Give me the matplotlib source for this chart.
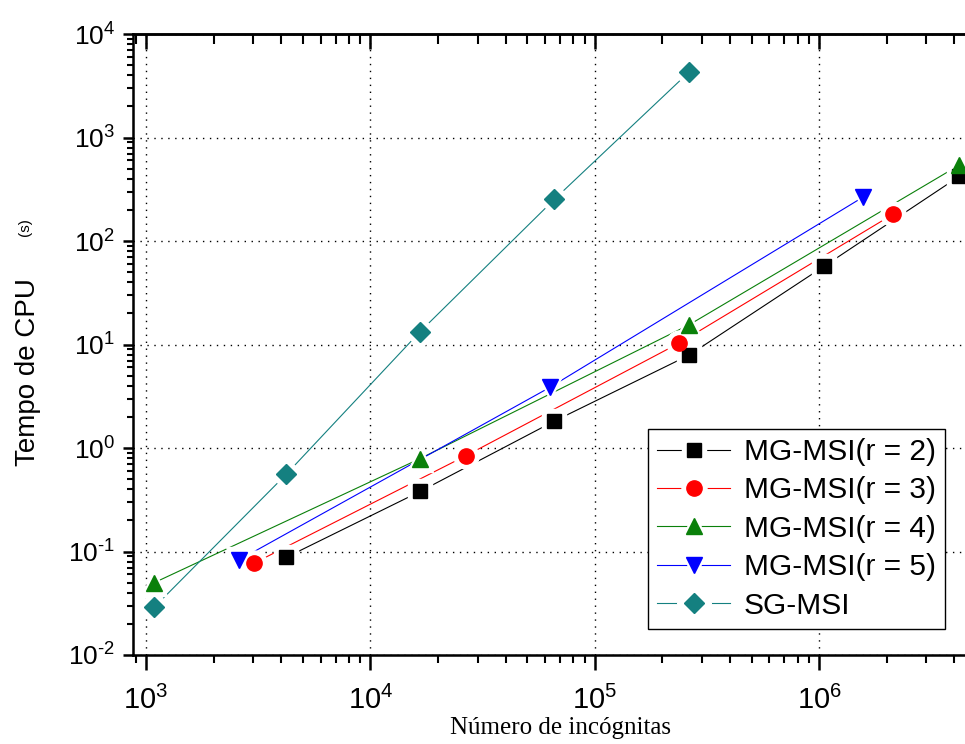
import matplotlib
matplotlib.use("Agg")
import matplotlib.pyplot as plt
from matplotlib.ticker import FuncFormatter
from matplotlib.legend_handler import HandlerTuple
import numpy as np

plt.rcParams['font.family'] = ['Liberation Sans', 'DejaVu Sans']
plt.rcParams['mathtext.fontset'] = 'custom'
plt.rcParams['mathtext.rm'] = 'Liberation Sans'
plt.rcParams['mathtext.default'] = 'regular'
plt.rcParams['axes.unicode_minus'] = False

# numero de incognitas / tempo de CPU (s)
x_r2 = [4225, 16641, 66049, 263169, 1050625, 4198401]
y_r2 = [0.088, 0.38, 1.82, 7.9, 57, 420]

x_r3 = [3025, 26569, 237169, 2128681]
y_r3 = [0.077, 0.84, 10.3, 181]

x_r4 = [1089, 16641, 263169, 4198401]
y_r4 = [0.05, 0.79, 15.5, 540]

x_r5 = [2601, 63001, 1565001]
y_r5 = [0.083, 3.85, 265]

x_sg = [1089, 4225, 16641, 66049, 263169]
y_sg = [0.029, 0.56, 13.3, 253, 4300]

labels = ['MG-MSI(r = 2)', 'MG-MSI(r = 3)', 'MG-MSI(r = 4)', 'MG-MSI(r = 5)', 'SG-MSI']
colors = ['black', '#ff0000', '#0a800a', '#0000ff', '#148080']
markers = ['s', 'o', '^', 'v', 'D']
sizes = [10, 11, 12, 12, 10]

series = [(x_r2, y_r2), (x_r3, y_r3), (x_r4, y_r4), (x_r5, y_r5), (x_sg, y_sg)]


def pow10(v, pos):
    # plain hyphen in the exponent, like the original
    e = int(round(np.log10(v)))
    s = str(e).replace('-', '\u2010')
    return '$10^{%s}$' % s


fig = plt.figure(figsize=(9.65, 7.44), dpi=100)
W, H = 965, 744
# axes right edge falls outside the picture (cropped in the original)
ax = fig.add_axes([133 / W, 1 - 655 / H, (975 - 133) / W, (655 - 34) / H])
ax.set_xscale('log')
ax.set_yscale('log')
ax.set_xlim(10 ** 2.942, 10 ** 6.694)
ax.set_ylim(1e-2, 1e4)
ax.xaxis.set_major_formatter(FuncFormatter(pow10))
ax.yaxis.set_major_formatter(FuncFormatter(pow10))

handles = []
for (xs, ys), lab, c, m, s in zip(series, labels, colors, markers, sizes):
    ln, = ax.plot(xs, ys, '-', color=c, lw=0.8, zorder=2)
    # white halo so the line stops short of the marker
    halo, = ax.plot(xs, ys, linestyle='none', marker=m, ms=s + 7, mfc='white', mec='white', zorder=3)
    mk, = ax.plot(xs, ys, linestyle='none', marker=m, ms=s, mfc=c, mec=c, zorder=4)
    handles.append((ln, halo, mk))

ax.grid(True, which='major', color='black', linestyle=(0, (1, 4)), lw=1.0)

for sp in ax.spines.values():
    sp.set_linewidth(1.8)

ax.tick_params(axis='x', which='major', direction='out', length=11, width=1.8, labelsize=21, pad=11)
ax.tick_params(axis='x', which='minor', direction='out', length=6, width=1.5)
ax.tick_params(axis='y', which='major', direction='out', length=7, width=1.8, labelsize=19, pad=6)
ax.tick_params(axis='y', which='minor', direction='out', length=4, width=1.5)

# top axis: ticks pointing into the plot, no labels
top = ax.twiny()
top.set_xscale('log')
top.set_xlim(ax.get_xlim())
top.tick_params(axis='x', which='major', direction='in', length=11, width=1.8, labeltop=False)
top.tick_params(axis='x', which='minor', direction='in', length=7, width=1.5)
top.spines['top'].set_linewidth(1.8)

leg = ax.legend(handles, labels, handler_map={tuple: HandlerTuple(ndivide=1)},
                loc='upper left', bbox_to_anchor=(648 / W, 1 - 429 / H),
                bbox_transform=fig.transFigure, fontsize=21.5, frameon=True,
                fancybox=False, framealpha=1, edgecolor='black',
                handlelength=2.45, handletextpad=0.45, labelspacing=0.35,
                borderpad=0.3, borderaxespad=0)
leg.get_frame().set_linewidth(1.0)
leg.set_zorder(10)

fig.text(560 / W, 1 - 728 / H, 'Número de incógnitas', family=['Liberation Serif', 'DejaVu Serif'],
         fontsize=18, ha='center', va='center')
fig.text(28 / W, 1 - 372 / H, 'Tempo de CPU', rotation=90, fontsize=20, ha='center', va='center')
fig.text(25 / W, 1 - 227 / H, '(s)', rotation=90, fontsize=11, ha='center', va='center')

fig.savefig('out.png', dpi=100)
